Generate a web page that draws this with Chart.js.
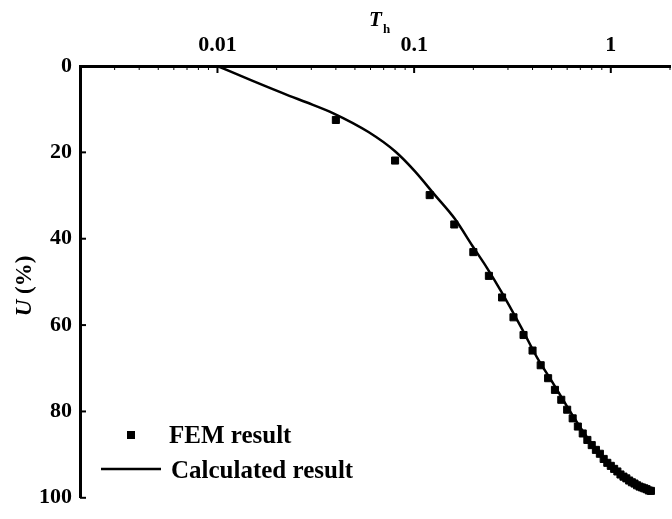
<!DOCTYPE html>
<html>
<head>
<meta charset="utf-8">
<script src="https://cdn.jsdelivr.net/npm/chart.js@4/dist/chart.umd.min.js"></script>
<style>
  html, body { margin: 0; padding: 0; background: #fff; overflow: hidden; }
  #wrap { width: 672px; height: 519px; overflow: hidden; }
  #box { width: 676px; height: 519px; }
</style>
</head>
<body>
<div id="wrap"><div id="box"><canvas id="chart"></canvas></div></div>
<script>
// FEM result (time factor Th, degree of consolidation U %)
var femT = [0.04, 0.08, 0.12, 0.16, 0.20, 0.24, 0.28, 0.32, 0.36, 0.40,
            0.44, 0.48, 0.52, 0.56, 0.60, 0.64, 0.68, 0.72, 0.76, 0.80,
            0.84, 0.88, 0.92, 0.96, 1.00, 1.04, 1.08, 1.12, 1.16, 1.20,
            1.24, 1.28, 1.32, 1.36, 1.40, 1.44, 1.48, 1.52, 1.56, 1.60];
var femU = [12.5, 21.9, 29.9, 36.7, 43.1, 48.6, 53.6, 58.2, 62.3, 65.9,
            69.3, 72.3, 75.0, 77.3, 79.6, 81.6, 83.5, 85.1, 86.6, 87.8,
            88.9, 89.8, 91.0, 91.9, 92.6, 93.3, 93.9, 94.6, 95.1, 95.5,
            96.0, 96.4, 96.7, 97.1, 97.4, 97.6, 97.8, 98.0, 98.3, 98.4];

// calculated curve
var calcT = [0.01, 0.015, 0.0232, 0.0283, 0.0386, 0.0586, 0.0802, 0.101, 0.127, 0.161,
             0.198, 0.235, 0.277, 0.348, 0.43, 0.5, 0.6, 0.7, 0.8, 1.0, 1.2, 1.4, 1.6];
var calcU = [0, 3.4, 6.9, 8.4, 10.9, 15.3, 19.8, 24.4, 29.8, 35.4,
             41.7, 46.8, 52.2, 60.3, 68.2, 72.9, 78.9, 83.7, 87.5, 92.3, 95.3, 97.2, 98.4];

var xTicks = [0.01, 0.1, 1];
var yTicks = [0, 20, 40, 60, 80, 100];
var legendLabels = ['FEM result', 'Calculated result'];

var serif = "'Liberation Serif', 'Times New Roman', serif";

function pts(xs, ys) {
    var out = [];
    for (var i = 0; i < xs.length; i++) out.push({x: xs[i], y: ys[i]});
    return out;
}

// inward ticks, axis titles and legend
var extras = {
    id: 'extras',
    afterDraw: function(chart) {
        var ctx = chart.ctx;
        var xs = chart.scales.x, ys = chart.scales.y;
        var a = chart.chartArea;
        ctx.save();
        ctx.strokeStyle = '#000';
        ctx.fillStyle = '#000';

        // x ticks (major + minor) pointing down into the plot
        for (var e = -3; e <= 0; e++) {
            for (var m = 1; m <= 9; m++) {
                var v = m * Math.pow(10, e);
                if (v < 0.002 || v > 2) continue;
                var px = xs.getPixelForValue(v);
                ctx.beginPath();
                ctx.lineWidth = m === 1 ? 2 : 1;
                ctx.moveTo(px, a.top);
                ctx.lineTo(px, a.top + (m === 1 ? 7 : 4));
                ctx.stroke();
            }
        }
        // y ticks pointing right
        yTicks.forEach(function(v) {
            var py = ys.getPixelForValue(v);
            ctx.beginPath();
            ctx.lineWidth = 2;
            ctx.moveTo(a.left, py);
            ctx.lineTo(a.left + 6, py);
            ctx.stroke();
        });

        // x title: T with subscript h
        ctx.textBaseline = 'alphabetic';
        ctx.textAlign = 'left';
        ctx.font = 'italic bold 21px ' + serif;
        ctx.fillText('T', 369, 26);
        ctx.font = 'bold 13px ' + serif;
        ctx.fillText('h', 383, 33);

        // y title: U (%)
        ctx.save();
        ctx.translate(31, 286);
        ctx.rotate(-Math.PI / 2);
        ctx.font = 'italic bold 23px ' + serif;
        var w1 = ctx.measureText('U').width;
        ctx.font = 'bold 23px ' + serif;
        var w2 = ctx.measureText(' (%)').width;
        var sx = -(w1 + w2) / 2;
        ctx.font = 'italic bold 23px ' + serif;
        ctx.fillText('U', sx, 0);
        ctx.font = 'bold 23px ' + serif;
        ctx.fillText(' (%)', sx + w1, 0);
        ctx.restore();

        // legend
        ctx.font = 'bold 25px ' + serif;
        ctx.fillRect(127, 431, 8, 8);
        ctx.fillText(legendLabels[0], 169, 443);
        ctx.beginPath();
        ctx.lineWidth = 2.5;
        ctx.moveTo(101, 469);
        ctx.lineTo(161, 469);
        ctx.stroke();
        ctx.fillText(legendLabels[1], 171, 478);
        ctx.restore();
    }
};

var chart = new Chart(document.getElementById('chart'), {
    type: 'scatter',
    data: {
        datasets: [{
            label: legendLabels[0],
            data: pts(femT, femU),
            showLine: false,
            pointStyle: 'rect',
            pointRadius: 5,
            pointBorderWidth: 1,
            backgroundColor: '#000',
            borderColor: '#000'
        }, {
            label: legendLabels[1],
            data: pts(calcT, calcU),
            showLine: true,
            pointRadius: 0,
            borderColor: '#000',
            borderWidth: 2.5,
            cubicInterpolationMode: 'monotone'
        }]
    },
    options: {
        responsive: true,
        maintainAspectRatio: false,
        animation: false,
        layout: {padding: {left: 0, right: 2, top: 0, bottom: 14}},
        plugins: {legend: {display: false}, tooltip: {enabled: false}},
        scales: {
            x: {
                type: 'logarithmic',
                position: 'top',
                min: 0.002,
                max: 2,
                afterBuildTicks: function(scale) {
                    scale.ticks = xTicks.map(function(v) { return {value: v}; });
                },
                afterFit: function(scale) { scale.height = 66; },
                ticks: {
                    autoSkip: false,
                    maxRotation: 0,
                    padding: 7,
                    color: '#000',
                    font: {family: serif, size: 22, weight: 'bold'},
                    callback: function(v) { return String(v); }
                },
                grid: {display: false, drawTicks: false},
                border: {display: true, width: 3, color: '#000'}
            },
            y: {
                type: 'linear',
                reverse: true,
                min: 0,
                max: 100,
                afterBuildTicks: function(scale) {
                    scale.ticks = yTicks.map(function(v) { return {value: v}; });
                },
                afterFit: function(scale) { scale.width = 80; },
                ticks: {
                    padding: 8,
                    color: '#000',
                    font: {family: serif, size: 22, weight: 'bold'}
                },
                grid: {display: false, drawTicks: false},
                border: {display: true, width: 3, color: '#000'}
            }
        }
    },
    plugins: [extras]
});
</script>
</body>
</html>
